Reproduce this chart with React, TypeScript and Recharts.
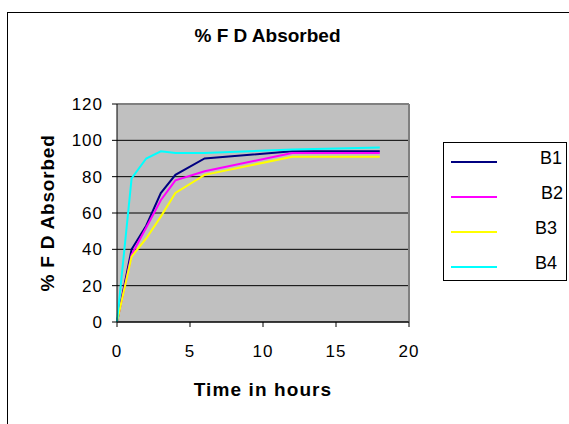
import { LineChart, Line, XAxis, YAxis, CartesianGrid, ReferenceLine, Label } from 'recharts'

const HOURS = [0, 1, 2, 3, 4, 6, 12, 18]
const B1 = [0, 40, 53, 71, 81, 90, 94, 94]
const B2 = [0, 37, 52, 67, 78, 83, 93, 93]
const B3 = [0, 36, 46, 58, 71, 81, 91, 91]
const B4 = [0, 79, 90, 94, 93, 93, 95, 96]

const X_TICKS = [0, 5, 10, 15, 20]
const Y_TICKS = [0, 20, 40, 60, 80, 100, 120]

const SERIES = [
  { key: 'B1', color: '#000080', textLeft: 96 },
  { key: 'B2', color: '#FF00FF', textLeft: 97 },
  { key: 'B3', color: '#FFFF00', textLeft: 91 },
  { key: 'B4', color: '#00FFFF', textLeft: 91 },
]

const data = HOURS.map((h, i) => ({ h, B1: B1[i], B2: B2[i], B3: B3[i], B4: B4[i] }))

const FONT = '"Liberation Sans", Arial, sans-serif'

function LegendBox() {
  return (
    <div style={{ position: 'absolute', left: 443, top: 142, width: 124, height: 139, border: '1px solid #000', background: '#fff', boxSizing: 'border-box', paddingTop: 1 }}>
      {SERIES.map((s) => (
        <div key={s.key} style={{ height: 35, position: 'relative' }}>
          <div style={{ position: 'absolute', left: 7, top: 17, width: 46, height: 2, background: s.color }} />
          <span style={{ position: 'absolute', left: s.textLeft, top: 4, fontSize: 18, lineHeight: 'normal', fontFamily: FONT, color: '#000' }}>{s.key}</span>
        </div>
      ))}
    </div>
  )
}

export default function App() {
  return (
    <div style={{ position: 'absolute', left: 0, top: 0, width: 569, height: 424, overflow: 'hidden', background: '#fff', fontFamily: FONT }}>
      <div style={{ position: 'absolute', left: 7, top: 12, width: 600, height: 500, border: '1px solid #000' }} />
      <div style={{ position: 'absolute', left: 0, width: 535, top: 25, textAlign: 'center', fontSize: 19, fontWeight: 'bold', color: '#000' }}>
        % F D Absorbed
      </div>
      <LineChart
        width={569}
        height={424}
        data={data}
        margin={{ top: 104, right: 160, bottom: 72, left: 57 }}
        style={{ position: 'absolute', left: 0, top: 0 }}
      >
        <CartesianGrid vertical={false} stroke="#000" fill="#c0c0c0" />
        <XAxis
          dataKey="h"
          type="number"
          domain={[0, 20]}
          ticks={X_TICKS}
          stroke="#000"
          tickSize={5}
          tickMargin={18}
          tick={{ fill: '#000', fontSize: 17, fontFamily: FONT, letterSpacing: 1 }}
        >
          <Label value="Time in hours" position="bottom" offset={31} style={{ fontSize: 19, fontWeight: 'bold', letterSpacing: 1.1, fill: '#000', fontFamily: FONT }} />
        </XAxis>
        <YAxis
          type="number"
          domain={[0, 120]}
          ticks={Y_TICKS}
          width={60}
          stroke="#000"
          tickSize={5}
          tickMargin={9}
          tick={{ fill: '#000', fontSize: 17, fontFamily: FONT, letterSpacing: 1 }}
        >
          <Label value="% F D Absorbed" angle={-90} position="left" offset={10} style={{ textAnchor: 'middle', fontSize: 19, fontWeight: 'bold', letterSpacing: 0.8, fill: '#000', fontFamily: FONT }} />
        </YAxis>
        <ReferenceLine y={120} stroke="#808080" strokeWidth={2} />
        <ReferenceLine x={20} stroke="#808080" strokeWidth={2} />
        {SERIES.map((s) => (
          <Line
            key={s.key}
            dataKey={s.key}
            type="linear"
            stroke={s.color}
            strokeWidth={2}
            dot={false}
            isAnimationActive={false}
          />
        ))}
      </LineChart>
      <LegendBox />
    </div>
  )
}
